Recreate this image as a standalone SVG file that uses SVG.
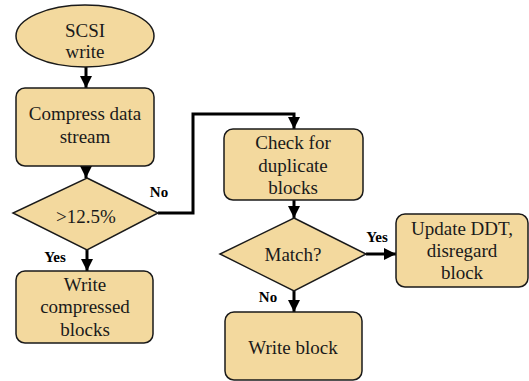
<svg xmlns="http://www.w3.org/2000/svg" width="529" height="381" viewBox="0 0 529 381">
  <defs>
    <marker id="arrow" viewBox="0 0 10 10" refX="10" refY="5" markerWidth="4" markerHeight="4" markerUnits="strokeWidth" orient="auto">
      <path d="M0,0 L10,5 L0,10 z" fill="#000"/>
    </marker>
    <style>
      text { font-family: "Liberation Serif", "Times New Roman", serif !important; }
      .shape { fill: #F3D99E; stroke: #1a1a1a; stroke-width: 1.5; }
      .txt { font-size: 19px; fill: #1a1a1a; text-anchor: middle; }
      .lbl { font-size: 15px; font-weight: bold; fill: #000; text-anchor: middle; }
      .conn { fill: none; stroke: #000; stroke-width: 3; marker-end: url(#arrow); }
    </style>
  </defs>
  <rect width="529" height="381" fill="#fff"/>

  <g id="connectors">
    <line class="conn" x1="86" y1="66" x2="86" y2="88"/>
    <line class="conn" x1="86" y1="166" x2="86" y2="178"/>
    <line class="conn" x1="87" y1="250" x2="87" y2="271"/>
    <polyline class="conn" points="158,213 193,213 193,114 294,114 294,129"/>
    <line class="conn" x1="294" y1="200" x2="294" y2="218"/>
    <line class="conn" x1="366" y1="254" x2="396" y2="254"/>
    <line class="conn" x1="294" y1="291" x2="294" y2="312"/>
    <text class="lbl" font-family="Liberation Serif, serif" x="159" y="197">No</text>
    <text class="lbl" font-family="Liberation Serif, serif" x="55" y="262">Yes</text>
    <text class="lbl" font-family="Liberation Serif, serif" x="377" y="242">Yes</text>
    <text class="lbl" font-family="Liberation Serif, serif" x="268" y="302">No</text>
  </g>

  <g id="scsi-write">
    <ellipse class="shape" cx="85" cy="36" rx="69" ry="31"/>
    <text class="txt" font-family="Liberation Serif, serif" x="85" y="37">SCSI</text>
    <text class="txt" font-family="Liberation Serif, serif" x="85" y="58">write</text>
  </g>

  <g id="compress">
    <rect class="shape" x="16" y="88" width="138" height="78" rx="9"/>
    <text class="txt" font-family="Liberation Serif, serif" x="85" y="120">Compress data</text>
    <text class="txt" font-family="Liberation Serif, serif" x="85" y="143">stream</text>
  </g>

  <g id="ratio-check">
    <polygon class="shape" points="87,178 158,213 87,250 13,213"/>
    <text class="txt" font-family="Liberation Serif, serif" x="86" y="223">&gt;12.5%</text>
  </g>

  <g id="write-compressed">
    <rect class="shape" x="16" y="271" width="137" height="72" rx="9"/>
    <text class="txt" font-family="Liberation Serif, serif" x="85" y="291">Write</text>
    <text class="txt" font-family="Liberation Serif, serif" x="85" y="313">compressed</text>
    <text class="txt" font-family="Liberation Serif, serif" x="85" y="336">blocks</text>
  </g>

  <g id="check-duplicates">
    <rect class="shape" x="224" y="129" width="139" height="71" rx="9"/>
    <text class="txt" font-family="Liberation Serif, serif" x="293" y="149">Check for</text>
    <text class="txt" font-family="Liberation Serif, serif" x="293" y="172">duplicate</text>
    <text class="txt" font-family="Liberation Serif, serif" x="293" y="194">blocks</text>
  </g>

  <g id="match">
    <polygon class="shape" points="294,218 366,254 294,291 220,254"/>
    <text class="txt" font-family="Liberation Serif, serif" x="293" y="261">Match?</text>
  </g>

  <g id="update-ddt">
    <rect class="shape" x="396" y="214" width="132" height="73" rx="9"/>
    <text class="txt" font-family="Liberation Serif, serif" x="462" y="235">Update DDT,</text>
    <text class="txt" font-family="Liberation Serif, serif" x="462" y="257">disregard</text>
    <text class="txt" font-family="Liberation Serif, serif" x="462" y="279">block</text>
  </g>

  <g id="write-block">
    <rect class="shape" x="225" y="312" width="137" height="68" rx="9"/>
    <text class="txt" font-family="Liberation Serif, serif" x="293" y="354">Write block</text>
  </g>
</svg>
